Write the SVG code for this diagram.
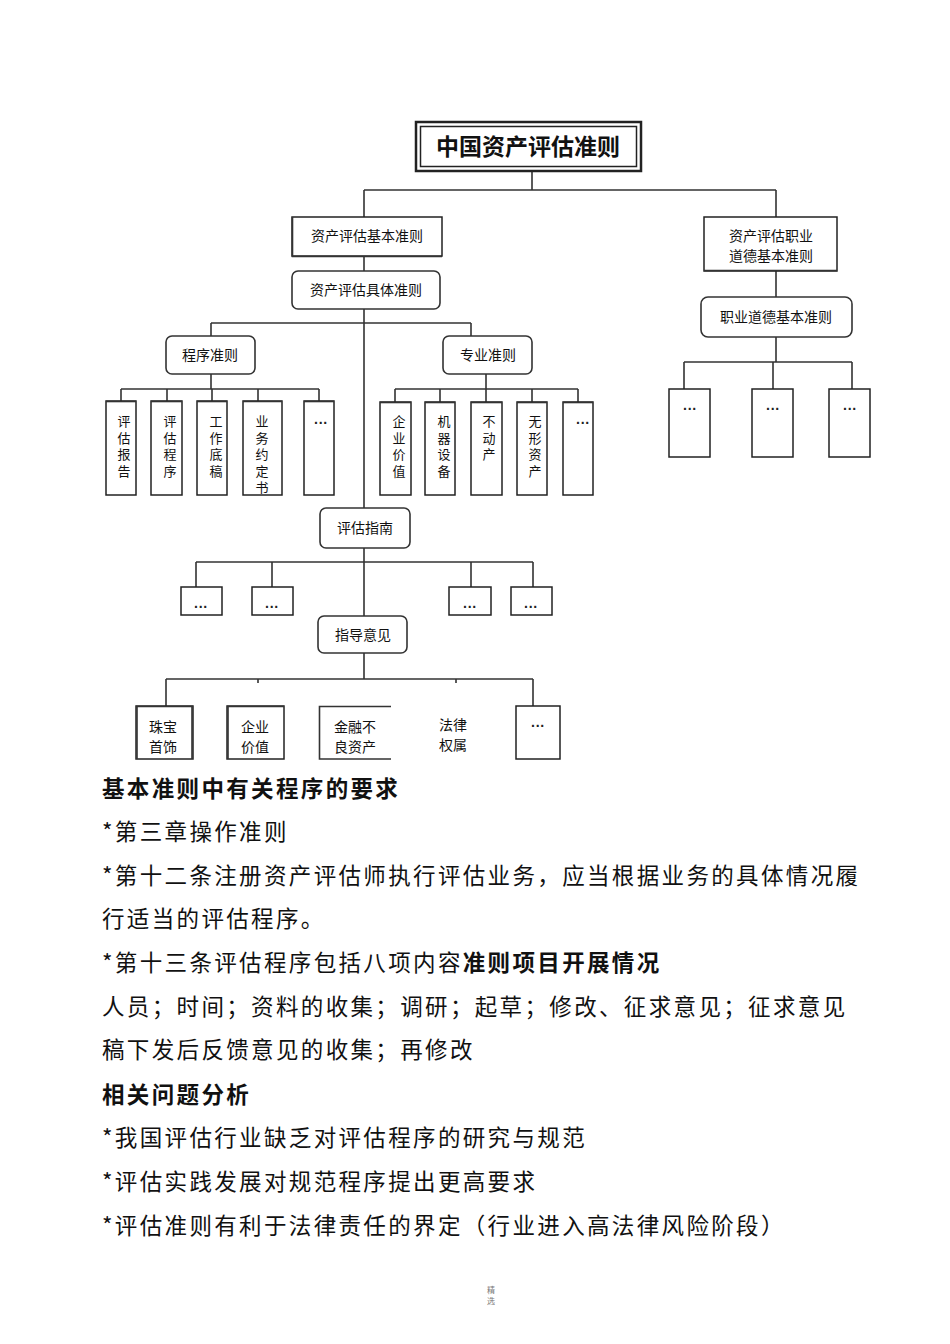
<svg xmlns="http://www.w3.org/2000/svg" width="950" height="1344" viewBox="0 0 950 1344">
<style>
.bg{fill:#fff}
.box{fill:#fff;stroke:#222;stroke-width:1.5}
.rbox{fill:#fff;stroke:#333;stroke-width:1.6}
.ln{fill:none;stroke:#333;stroke-width:1.6}
.t{font-family:"Noto Sans CJK SC","Liberation Sans",sans-serif;font-size:14px;fill:#111;text-anchor:middle}
.v{font-family:"Noto Sans CJK SC","Liberation Sans",sans-serif;font-size:13px;fill:#111;writing-mode:vertical-rl;text-orientation:upright;letter-spacing:3.5px}
.title{font-family:"Noto Sans CJK SC","Liberation Sans",sans-serif;font-size:23px;font-weight:bold;fill:#111;text-anchor:middle}
.body{font-family:"Noto Sans CJK SC","Liberation Sans",sans-serif;font-size:22.5px;fill:#111;letter-spacing:2.35px}
.b{font-weight:bold}
.dots{font-family:"Liberation Sans",sans-serif;font-size:14px;font-weight:bold;fill:#222;text-anchor:middle}
</style>
<rect class="bg" x="0" y="0" width="950" height="1344"/>

<g id="connectors">
<path class="ln" d="M532 171V190M364 190H776M364 190V217M776 190V217"/>
<path class="ln" d="M364 256V271M776 271V297M776 337V362M684 362H852M684 362V389M773 362V389M852 362V389"/>
<path class="ln" d="M364 309V508M211 323H471M211 323V336M471 323V336"/>
<path class="ln" d="M211 374V389M121 389H319M121 389V401M167 389V401M212 389V401M258 389V401M319 389V401"/>
<path class="ln" d="M486 374V389M395 389H578M395 389V402M440 389V402M486 389V402M532 389V402M578 389V402"/>
<path class="ln" d="M364 548V616M196 562H533M196 562V587M272 562V587M471 562V587M533 562V587"/>
<path class="ln" d="M364 653V679M166 679H533M166 679V706M258 679V683M456 679V683M533 679V706"/>
</g>

<g id="n-title">
<rect x="416" y="122" width="225" height="49" fill="#fff" stroke="#222" stroke-width="2.5"/>
<rect x="420.5" y="126.5" width="216" height="40" fill="none" stroke="#222" stroke-width="1.5"/>
<text class="title" x="528" y="155">中国资产评估准则</text>
</g>

<g id="n-basic">
<rect class="box" x="292" y="217" width="150" height="39"/>
<path class="ln" d="M292.5 217V256.5H442" stroke-width="2.5"/>
<text class="t" x="367" y="241">资产评估基本准则</text>
</g>
<g id="n-specific">
<rect class="rbox" x="292" y="271" width="148" height="38" rx="6"/>
<text class="t" x="366" y="295">资产评估具体准则</text>
</g>
<g id="n-ethics">
<rect class="box" x="704" y="217" width="133" height="54"/>
<path class="ln" d="M704 270.5H837" stroke-width="2.5"/>
<text class="t" x="771" y="241">资产评估职业</text>
<text class="t" x="771" y="261">道德基本准则</text>
</g>
<g id="n-ethics2">
<rect class="rbox" x="701" y="297" width="151" height="40" rx="7"/>
<text class="t" x="776" y="322">职业道德基本准则</text>
</g>
<g id="n-e1"><rect class="box" x="669" y="389" width="41" height="68"/><text class="dots" x="690" y="414">···</text></g>
<g id="n-e2"><rect class="box" x="752" y="389" width="41" height="68"/><text class="dots" x="773" y="414">···</text></g>
<g id="n-e3"><rect class="box" x="829" y="389" width="41" height="68"/><text class="dots" x="850" y="414">···</text></g>

<g id="n-proc">
<rect class="rbox" x="166" y="336" width="89" height="38" rx="6"/>
<text class="t" x="210" y="360">程序准则</text>
</g>
<g id="n-prof">
<rect class="rbox" x="443" y="336" width="89" height="38" rx="6"/>
<text class="t" x="488" y="360">专业准则</text>
</g>

<g id="n-p1"><rect class="box" x="106" y="401" width="30" height="94"/><path class="ln" d="M106 401.5H136" stroke-width="2.5"/>
<text class="v" x="124" y="415">评估报告</text></g>
<g id="n-p2"><rect class="box" x="151" y="401" width="31" height="94"/><path class="ln" d="M151 401.5H182" stroke-width="2.5"/>
<text class="v" x="170" y="415">评估程序</text></g>
<g id="n-p3"><rect class="box" x="197" y="401" width="30" height="94"/><path class="ln" d="M197 401.5H227" stroke-width="2.5"/>
<text class="v" x="216" y="415">工作底稿</text></g>
<g id="n-p4"><rect class="box" x="243" y="401" width="39" height="94"/><path class="ln" d="M243 401.5H282" stroke-width="2.5"/>
<text class="v" x="262" y="415">业务约定书</text></g>
<g id="n-p5"><rect class="box" x="304" y="401" width="30" height="94"/><path class="ln" d="M304 401.5H334" stroke-width="2.5"/><text class="dots" x="321" y="428">···</text></g>

<g id="n-s1"><rect class="box" x="380" y="402" width="31" height="93"/><path class="ln" d="M380 402.5H411" stroke-width="2.5"/>
<text class="v" x="399" y="415">企业价值</text></g>
<g id="n-s2"><rect class="box" x="425" y="402" width="30" height="93"/><path class="ln" d="M425 402.5H455" stroke-width="2.5"/>
<text class="v" x="444" y="415">机器设备</text></g>
<g id="n-s3"><rect class="box" x="471" y="402" width="31" height="93"/><path class="ln" d="M471 402.5H502" stroke-width="2.5"/>
<text class="v" x="489" y="415">不动产</text></g>
<g id="n-s4"><rect class="box" x="517" y="402" width="30" height="93"/><path class="ln" d="M517 402.5H547" stroke-width="2.5"/>
<text class="v" x="535" y="415">无形资产</text></g>
<g id="n-s5"><rect class="box" x="563" y="402" width="30" height="93"/><path class="ln" d="M563 402.5H593" stroke-width="2.5"/><text class="dots" x="583" y="428">···</text></g>

<g id="n-guide">
<rect class="rbox" x="320" y="508" width="90" height="40" rx="6"/>
<text class="t" x="365" y="533">评估指南</text>
</g>
<g id="n-g1"><rect class="box" x="181" y="587" width="41" height="28"/><text class="dots" x="201" y="612">···</text></g>
<g id="n-g2"><rect class="box" x="252" y="587" width="41" height="28"/><text class="dots" x="272" y="612">···</text></g>
<g id="n-g3"><rect class="box" x="449" y="587" width="42" height="28"/><text class="dots" x="470" y="612">···</text></g>
<g id="n-g4"><rect class="box" x="511" y="587" width="41" height="28"/><text class="dots" x="531" y="612">···</text></g>

<g id="n-opinion">
<rect class="rbox" x="318" y="616" width="89" height="37" rx="6"/>
<text class="t" x="363" y="640">指导意见</text>
</g>

<g id="n-o1"><rect class="box" x="136" y="706" width="57" height="53"/><path class="ln" d="M137 706V759M136 706.5H193M192 706V759" stroke-width="2.5"/>
<text class="t" x="163" y="732">珠宝</text><text class="t" x="163" y="752">首饰</text></g>
<g id="n-o2"><rect class="box" x="227" y="706" width="57" height="53"/><path class="ln" d="M228 706V759M227 706.5H284" stroke-width="2.5"/>
<text class="t" x="255" y="732">企业</text><text class="t" x="255" y="752">价值</text></g>
<g id="n-o3"><path class="ln" d="M391 706.5H319.5V759H391" stroke-width="2.2"/>
<text class="t" x="355" y="732">金融不</text><text class="t" x="355" y="752">良资产</text></g>
<g id="n-o4"><text class="t" x="453" y="730">法律</text><text class="t" x="453" y="750">权属</text></g>
<g id="n-o5"><rect class="box" x="516" y="706" width="44" height="53"/><text class="dots" x="538" y="731">···</text></g>

<g id="body-text">
<text class="body b" x="102" y="797">基本准则中有关程序的要求</text>
<text class="body" x="102" y="840">*第三章操作准则</text>
<text class="body" x="102" y="884">*第十二条注册资产评估师执行评估业务，应当根据业务的具体情况履</text>
<text class="body" x="102" y="927">行适当的评估程序。</text>
<text class="body" x="102" y="971">*第十三条评估程序包括八项内容<tspan class="b">准则项目开展情况</tspan></text>
<text class="body" x="102" y="1015">人员；时间；资料的收集；调研；起草；修改、征求意见；征求意见</text>
<text class="body" x="102" y="1058">稿下发后反馈意见的收集；再修改</text>
<text class="body b" x="102" y="1103">相关问题分析</text>
<text class="body" x="102" y="1146">*我国评估行业缺乏对评估程序的研究与规范</text>
<text class="body" x="102" y="1190">*评估实践发展对规范程序提出更高要求</text>
<text class="body" x="102" y="1234">*评估准则有利于法律责任的界定（行业进入高法律风险阶段）</text>
</g>
<g id="footer">
<text x="491" y="1293" font-family="Noto Sans CJK SC,sans-serif" font-size="8" fill="#777" text-anchor="middle">精</text>
<text x="491" y="1304" font-family="Noto Sans CJK SC,sans-serif" font-size="8" fill="#777" text-anchor="middle">选</text>
</g>
</svg>
